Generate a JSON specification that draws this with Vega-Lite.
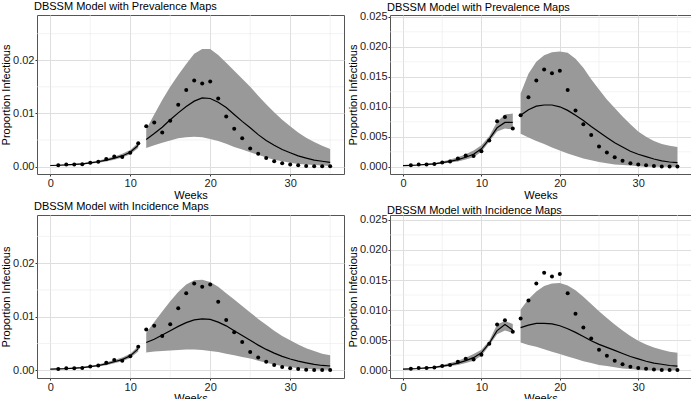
{
"$schema":"https://vega.github.io/schema/vega-lite/v6.json",
"padding":{"left":0,"top":0,"right":0,"bottom":0},
"background":"white",
"datasets":{
"gx":[{"w":5},{"w":15},{"w":25},{"w":35}],
"gyA":[{"y":0.005},{"y":0.015},{"y":0.025}],
"gyB":[{"y":0.0025},{"y":0.0075},{"y":0.0125},{"y":0.0175},{"y":0.0225}],
"obs":[{"w":1,"o":0.00025},{"w":2,"o":0.0004},{"w":3,"o":0.0004},{"w":4,"o":0.00045},{"w":5,"o":0.0007},{"w":6,"o":0.0009},{"w":7,"o":0.0014},{"w":8,"o":0.0019},{"w":9,"o":0.0018},{"w":10,"o":0.0026},{"w":11,"o":0.0044},{"w":12,"o":0.0076},{"w":13,"o":0.0083},{"w":14,"o":0.0064},{"w":15,"o":0.0086},{"w":16,"o":0.0116},{"w":17,"o":0.0144},{"w":18,"o":0.0162},{"w":19,"o":0.0156},{"w":20,"o":0.016},{"w":21,"o":0.0128},{"w":22,"o":0.0094},{"w":23,"o":0.0071},{"w":24,"o":0.0053},{"w":25,"o":0.0034},{"w":26,"o":0.0024},{"w":27,"o":0.0016},{"w":28,"o":0.001},{"w":29,"o":0.0006},{"w":30,"o":0.0004},{"w":31,"o":0.00025},{"w":32,"o":0.00012},{"w":33,"o":0.00006},{"w":34,"o":0.00005},{"w":35,"o":0.00005}],
"fit":[
{"p":"TL","s":1,"w":0,"lo":0.00015,"m":0.0002,"hi":0.00025},
{"p":"TL","s":1,"w":1,"lo":0.0002,"m":0.00025,"hi":0.0003},
{"p":"TL","s":1,"w":2,"lo":0.00025,"m":0.0003,"hi":0.00038},
{"p":"TL","s":1,"w":3,"lo":0.0003,"m":0.0004,"hi":0.00048},
{"p":"TL","s":1,"w":4,"lo":0.0004,"m":0.0005,"hi":0.0006},
{"p":"TL","s":1,"w":5,"lo":0.00055,"m":0.0007,"hi":0.00085},
{"p":"TL","s":1,"w":6,"lo":0.0007,"m":0.0009,"hi":0.0011},
{"p":"TL","s":1,"w":7,"lo":0.00095,"m":0.0012,"hi":0.0015},
{"p":"TL","s":1,"w":8,"lo":0.0013,"m":0.0016,"hi":0.0019},
{"p":"TL","s":1,"w":9,"lo":0.0017,"m":0.002,"hi":0.0024},
{"p":"TL","s":1,"w":10,"lo":0.0023,"m":0.0027,"hi":0.0031},
{"p":"TL","s":1,"w":11,"lo":0.0035,"m":0.004,"hi":0.0045},
{"p":"TL","s":2,"w":12,"lo":0.0035,"m":0.0051,"hi":0.007},
{"p":"TL","s":2,"w":13,"lo":0.004,"m":0.0062,"hi":0.0098},
{"p":"TL","s":2,"w":14,"lo":0.0045,"m":0.0074,"hi":0.0125},
{"p":"TL","s":2,"w":15,"lo":0.0049,"m":0.0088,"hi":0.015},
{"p":"TL","s":2,"w":16,"lo":0.0053,"m":0.0101,"hi":0.0172},
{"p":"TL","s":2,"w":17,"lo":0.0055,"m":0.0113,"hi":0.0193},
{"p":"TL","s":2,"w":18,"lo":0.0056,"m":0.0123,"hi":0.0212},
{"p":"TL","s":2,"w":19,"lo":0.0055,"m":0.0129,"hi":0.0221},
{"p":"TL","s":2,"w":20,"lo":0.0052,"m":0.0128,"hi":0.0221},
{"p":"TL","s":2,"w":21,"lo":0.0048,"m":0.0121,"hi":0.021},
{"p":"TL","s":2,"w":22,"lo":0.0043,"m":0.0111,"hi":0.0195},
{"p":"TL","s":2,"w":23,"lo":0.0037,"m":0.0098,"hi":0.018},
{"p":"TL","s":2,"w":24,"lo":0.0032,"m":0.0085,"hi":0.0165},
{"p":"TL","s":2,"w":25,"lo":0.0027,"m":0.0073,"hi":0.015},
{"p":"TL","s":2,"w":26,"lo":0.0022,"m":0.006,"hi":0.0133},
{"p":"TL","s":2,"w":27,"lo":0.0017,"m":0.0049,"hi":0.0117},
{"p":"TL","s":2,"w":28,"lo":0.0013,"m":0.004,"hi":0.0102},
{"p":"TL","s":2,"w":29,"lo":0.001,"m":0.0032,"hi":0.0088},
{"p":"TL","s":2,"w":30,"lo":0.0007,"m":0.0026,"hi":0.0076},
{"p":"TL","s":2,"w":31,"lo":0.0005,"m":0.002,"hi":0.0064},
{"p":"TL","s":2,"w":32,"lo":0.0004,"m":0.0016,"hi":0.0054},
{"p":"TL","s":2,"w":33,"lo":0.0003,"m":0.0012,"hi":0.0046},
{"p":"TL","s":2,"w":34,"lo":0.0002,"m":0.001,"hi":0.0039},
{"p":"TL","s":2,"w":35,"lo":0.0001,"m":0.0008,"hi":0.0033},
{"p":"BL","s":1,"w":0,"lo":0.00015,"m":0.0002,"hi":0.00025},
{"p":"BL","s":1,"w":1,"lo":0.0002,"m":0.00025,"hi":0.0003},
{"p":"BL","s":1,"w":2,"lo":0.00025,"m":0.0003,"hi":0.00038},
{"p":"BL","s":1,"w":3,"lo":0.0003,"m":0.0004,"hi":0.00048},
{"p":"BL","s":1,"w":4,"lo":0.0004,"m":0.0005,"hi":0.0006},
{"p":"BL","s":1,"w":5,"lo":0.00055,"m":0.0007,"hi":0.00085},
{"p":"BL","s":1,"w":6,"lo":0.0007,"m":0.0009,"hi":0.0011},
{"p":"BL","s":1,"w":7,"lo":0.00095,"m":0.0012,"hi":0.0015},
{"p":"BL","s":1,"w":8,"lo":0.0013,"m":0.0016,"hi":0.0019},
{"p":"BL","s":1,"w":9,"lo":0.0017,"m":0.002,"hi":0.0024},
{"p":"BL","s":1,"w":10,"lo":0.0023,"m":0.0027,"hi":0.0031},
{"p":"BL","s":1,"w":11,"lo":0.0035,"m":0.004,"hi":0.0045},
{"p":"BL","s":2,"w":12,"lo":0.0033,"m":0.0052,"hi":0.007},
{"p":"BL","s":2,"w":13,"lo":0.0035,"m":0.0058,"hi":0.009},
{"p":"BL","s":2,"w":14,"lo":0.0036,"m":0.0066,"hi":0.011},
{"p":"BL","s":2,"w":15,"lo":0.0037,"m":0.0074,"hi":0.0129},
{"p":"BL","s":2,"w":16,"lo":0.0038,"m":0.0082,"hi":0.0146},
{"p":"BL","s":2,"w":17,"lo":0.0039,"m":0.0089,"hi":0.016},
{"p":"BL","s":2,"w":18,"lo":0.0039,"m":0.0094,"hi":0.0168},
{"p":"BL","s":2,"w":19,"lo":0.0038,"m":0.0096,"hi":0.0169},
{"p":"BL","s":2,"w":20,"lo":0.0036,"m":0.0095,"hi":0.0165},
{"p":"BL","s":2,"w":21,"lo":0.0034,"m":0.009,"hi":0.0156},
{"p":"BL","s":2,"w":22,"lo":0.0031,"m":0.0083,"hi":0.0144},
{"p":"BL","s":2,"w":23,"lo":0.0028,"m":0.0074,"hi":0.0132},
{"p":"BL","s":2,"w":24,"lo":0.0025,"m":0.0065,"hi":0.012},
{"p":"BL","s":2,"w":25,"lo":0.0022,"m":0.0056,"hi":0.0108},
{"p":"BL","s":2,"w":26,"lo":0.0018,"m":0.0047,"hi":0.0096},
{"p":"BL","s":2,"w":27,"lo":0.0014,"m":0.0039,"hi":0.0085},
{"p":"BL","s":2,"w":28,"lo":0.0011,"m":0.0032,"hi":0.0074},
{"p":"BL","s":2,"w":29,"lo":0.0008,"m":0.0026,"hi":0.0064},
{"p":"BL","s":2,"w":30,"lo":0.0006,"m":0.0021,"hi":0.0056},
{"p":"BL","s":2,"w":31,"lo":0.0004,"m":0.0017,"hi":0.0048},
{"p":"BL","s":2,"w":32,"lo":0.0003,"m":0.0014,"hi":0.0041},
{"p":"BL","s":2,"w":33,"lo":0.0002,"m":0.0011,"hi":0.0036},
{"p":"BL","s":2,"w":34,"lo":0.0001,"m":0.0009,"hi":0.0031},
{"p":"BL","s":2,"w":35,"lo":0.0001,"m":0.0008,"hi":0.0028},
{"p":"TR","s":1,"w":0,"lo":0.00015,"m":0.0002,"hi":0.00025},
{"p":"TR","s":1,"w":1,"lo":0.0002,"m":0.00025,"hi":0.0003},
{"p":"TR","s":1,"w":2,"lo":0.00025,"m":0.0003,"hi":0.0004},
{"p":"TR","s":1,"w":3,"lo":0.0003,"m":0.0004,"hi":0.0005},
{"p":"TR","s":1,"w":4,"lo":0.0004,"m":0.0005,"hi":0.0006},
{"p":"TR","s":1,"w":5,"lo":0.0005,"m":0.0007,"hi":0.0009},
{"p":"TR","s":1,"w":6,"lo":0.0007,"m":0.0009,"hi":0.0012},
{"p":"TR","s":1,"w":7,"lo":0.0009,"m":0.0012,"hi":0.0016},
{"p":"TR","s":1,"w":8,"lo":0.0012,"m":0.0016,"hi":0.0021},
{"p":"TR","s":1,"w":9,"lo":0.0016,"m":0.0021,"hi":0.0027},
{"p":"TR","s":1,"w":10,"lo":0.0025,"m":0.003,"hi":0.0036},
{"p":"TR","s":1,"w":11,"lo":0.0042,"m":0.0046,"hi":0.0051},
{"p":"TR","s":1,"w":12,"lo":0.0059,"m":0.0065,"hi":0.0075},
{"p":"TR","s":1,"w":13,"lo":0.0064,"m":0.0074,"hi":0.0087},
{"p":"TR","s":1,"w":14,"lo":0.0062,"m":0.0074,"hi":0.0089},
{"p":"TR","s":2,"w":15,"lo":0.0055,"m":0.0086,"hi":0.0122},
{"p":"TR","s":2,"w":16,"lo":0.0049,"m":0.0095,"hi":0.0155},
{"p":"TR","s":2,"w":17,"lo":0.0043,"m":0.0101,"hi":0.0175},
{"p":"TR","s":2,"w":18,"lo":0.0038,"m":0.0103,"hi":0.0186},
{"p":"TR","s":2,"w":19,"lo":0.0032,"m":0.0103,"hi":0.0191},
{"p":"TR","s":2,"w":20,"lo":0.0027,"m":0.01,"hi":0.0192},
{"p":"TR","s":2,"w":21,"lo":0.0022,"m":0.0094,"hi":0.019},
{"p":"TR","s":2,"w":22,"lo":0.0018,"m":0.0086,"hi":0.018},
{"p":"TR","s":2,"w":23,"lo":0.0014,"m":0.0077,"hi":0.0165},
{"p":"TR","s":2,"w":24,"lo":0.0011,"m":0.0067,"hi":0.0146},
{"p":"TR","s":2,"w":25,"lo":0.0008,"m":0.0058,"hi":0.0129},
{"p":"TR","s":2,"w":26,"lo":0.0006,"m":0.0049,"hi":0.0112},
{"p":"TR","s":2,"w":27,"lo":0.0004,"m":0.004,"hi":0.0098},
{"p":"TR","s":2,"w":28,"lo":0.0003,"m":0.0033,"hi":0.0084},
{"p":"TR","s":2,"w":29,"lo":0.0002,"m":0.0026,"hi":0.0071},
{"p":"TR","s":2,"w":30,"lo":0.0001,"m":0.0021,"hi":0.0059},
{"p":"TR","s":2,"w":31,"lo":0.0,"m":0.0017,"hi":0.005},
{"p":"TR","s":2,"w":32,"lo":0.0,"m":0.0013,"hi":0.0043},
{"p":"TR","s":2,"w":33,"lo":0.0,"m":0.001,"hi":0.0038},
{"p":"TR","s":2,"w":34,"lo":0.0,"m":0.0008,"hi":0.0035},
{"p":"TR","s":2,"w":35,"lo":0.0,"m":0.0007,"hi":0.0033},
{"p":"BR","s":1,"w":0,"lo":0.00015,"m":0.0002,"hi":0.00025},
{"p":"BR","s":1,"w":1,"lo":0.0002,"m":0.00025,"hi":0.0003},
{"p":"BR","s":1,"w":2,"lo":0.00025,"m":0.0003,"hi":0.0004},
{"p":"BR","s":1,"w":3,"lo":0.0003,"m":0.0004,"hi":0.0005},
{"p":"BR","s":1,"w":4,"lo":0.0004,"m":0.0005,"hi":0.0006},
{"p":"BR","s":1,"w":5,"lo":0.0005,"m":0.0007,"hi":0.0009},
{"p":"BR","s":1,"w":6,"lo":0.0007,"m":0.0009,"hi":0.0012},
{"p":"BR","s":1,"w":7,"lo":0.0009,"m":0.0012,"hi":0.0016},
{"p":"BR","s":1,"w":8,"lo":0.0012,"m":0.0016,"hi":0.0021},
{"p":"BR","s":1,"w":9,"lo":0.0016,"m":0.0021,"hi":0.0027},
{"p":"BR","s":1,"w":10,"lo":0.0024,"m":0.0029,"hi":0.0034},
{"p":"BR","s":1,"w":11,"lo":0.0041,"m":0.0045,"hi":0.0049},
{"p":"BR","s":1,"w":12,"lo":0.006,"m":0.0066,"hi":0.0076},
{"p":"BR","s":1,"w":13,"lo":0.0066,"m":0.0076,"hi":0.0082},
{"p":"BR","s":1,"w":14,"lo":0.0062,"m":0.0067,"hi":0.0077},
{"p":"BR","s":2,"w":15,"lo":0.0046,"m":0.0071,"hi":0.0101},
{"p":"BR","s":2,"w":16,"lo":0.0042,"m":0.0075,"hi":0.0118},
{"p":"BR","s":2,"w":17,"lo":0.0039,"m":0.0078,"hi":0.0131},
{"p":"BR","s":2,"w":18,"lo":0.0035,"m":0.0078,"hi":0.014},
{"p":"BR","s":2,"w":19,"lo":0.0031,"m":0.0077,"hi":0.0144},
{"p":"BR","s":2,"w":20,"lo":0.0027,"m":0.0074,"hi":0.0145},
{"p":"BR","s":2,"w":21,"lo":0.0023,"m":0.0069,"hi":0.0141},
{"p":"BR","s":2,"w":22,"lo":0.0019,"m":0.0063,"hi":0.0133},
{"p":"BR","s":2,"w":23,"lo":0.0015,"m":0.0056,"hi":0.0122},
{"p":"BR","s":2,"w":24,"lo":0.0012,"m":0.0049,"hi":0.011},
{"p":"BR","s":2,"w":25,"lo":0.0009,"m":0.0043,"hi":0.0098},
{"p":"BR","s":2,"w":26,"lo":0.0007,"m":0.0038,"hi":0.0087},
{"p":"BR","s":2,"w":27,"lo":0.0005,"m":0.0033,"hi":0.0076},
{"p":"BR","s":2,"w":28,"lo":0.0003,"m":0.0028,"hi":0.0066},
{"p":"BR","s":2,"w":29,"lo":0.0002,"m":0.0023,"hi":0.0057},
{"p":"BR","s":2,"w":30,"lo":0.0001,"m":0.0019,"hi":0.0049},
{"p":"BR","s":2,"w":31,"lo":0.0,"m":0.0015,"hi":0.0043},
{"p":"BR","s":2,"w":32,"lo":0.0,"m":0.0012,"hi":0.0038},
{"p":"BR","s":2,"w":33,"lo":0.0,"m":0.001,"hi":0.0034},
{"p":"BR","s":2,"w":34,"lo":0.0,"m":0.0008,"hi":0.0031},
{"p":"BR","s":2,"w":35,"lo":0.0,"m":0.0007,"hi":0.0029}
]
},
"concat":[
{"width":307,"height":159,"title":{"text":"DBSSM Model with Prevalence Maps"},
"layer":[
{"data":{"name":"gx"},"mark":{"type":"rule","color":"#EBEBEB","strokeWidth":0.6},"encoding":{"x":{"field":"w","type":"quantitative","scale":{"domain":[-1.66,36.73],"nice":false,"zero":false},"axis":{"values":[0,10,20,30],"title":"Weeks"}}}},
{"data":{"name":"gyA"},"mark":{"type":"rule","color":"#EBEBEB","strokeWidth":0.6},"encoding":{"y":{"field":"y","type":"quantitative","scale":{"domain":[-0.0014,0.0285],"nice":false,"zero":false},"axis":{"values":[0,0.01,0.02],"format":".2f","title":"Proportion Infectious"}}}},
{"data":{"name":"fit"},"transform":[{"filter":"datum.p=='TL'"}],"mark":{"type":"area","color":"#999999","opacity":1},"encoding":{"x":{"field":"w","type":"quantitative","scale":{"domain":[-1.66,36.73],"nice":false,"zero":false},"axis":{"values":[0,10,20,30],"title":"Weeks"}},"y":{"field":"lo","type":"quantitative","scale":{"domain":[-0.0014,0.0285],"nice":false,"zero":false},"axis":{"values":[0,0.01,0.02],"format":".2f","title":"Proportion Infectious"}},"y2":{"field":"hi"},"detail":{"field":"s"}}},
{"data":{"name":"fit"},"transform":[{"filter":"datum.p=='TL'"}],"mark":{"type":"line","color":"black","strokeWidth":1.2},"encoding":{"x":{"field":"w","type":"quantitative","scale":{"domain":[-1.66,36.73],"nice":false,"zero":false},"axis":{"values":[0,10,20,30],"title":"Weeks"}},"y":{"field":"m","type":"quantitative","scale":{"domain":[-0.0014,0.0285],"nice":false,"zero":false},"axis":{"values":[0,0.01,0.02],"format":".2f","title":"Proportion Infectious"}},"detail":{"field":"s"}}},
{"data":{"name":"obs"},"mark":{"type":"circle","color":"black","size":16,"opacity":1},"encoding":{"x":{"field":"w","type":"quantitative","scale":{"domain":[-1.66,36.73],"nice":false,"zero":false},"axis":{"values":[0,10,20,30],"title":"Weeks"}},"y":{"field":"o","type":"quantitative","scale":{"domain":[-0.0014,0.0285],"nice":false,"zero":false},"axis":{"values":[0,0.01,0.02],"format":".2f","title":"Proportion Infectious"}}}}
]},
{"width":301,"height":159,"title":{"text":"DBSSM Model with Prevalence Maps","offset":-2.5},
"layer":[
{"data":{"name":"gx"},"mark":{"type":"rule","color":"#EBEBEB","strokeWidth":0.6},"encoding":{"x":{"field":"w","type":"quantitative","scale":{"domain":[-1.66,36.73],"nice":false,"zero":false},"axis":{"values":[0,10,20,30],"title":"Weeks"}}}},
{"data":{"name":"gyB"},"mark":{"type":"rule","color":"#EBEBEB","strokeWidth":0.6},"encoding":{"y":{"field":"y","type":"quantitative","scale":{"domain":[-0.0012,0.0253],"nice":false,"zero":false},"axis":{"values":[0,0.005,0.01,0.015,0.02,0.025],"format":".3f","title":"Proportion Infectious"}}}},
{"data":{"name":"fit"},"transform":[{"filter":"datum.p=='TR'"}],"mark":{"type":"area","color":"#999999","opacity":1},"encoding":{"x":{"field":"w","type":"quantitative","scale":{"domain":[-1.66,36.73],"nice":false,"zero":false},"axis":{"values":[0,10,20,30],"title":"Weeks"}},"y":{"field":"lo","type":"quantitative","scale":{"domain":[-0.0012,0.0253],"nice":false,"zero":false},"axis":{"values":[0,0.005,0.01,0.015,0.02,0.025],"format":".3f","title":"Proportion Infectious"}},"y2":{"field":"hi"},"detail":{"field":"s"}}},
{"data":{"name":"fit"},"transform":[{"filter":"datum.p=='TR'"}],"mark":{"type":"line","color":"black","strokeWidth":1.2},"encoding":{"x":{"field":"w","type":"quantitative","scale":{"domain":[-1.66,36.73],"nice":false,"zero":false},"axis":{"values":[0,10,20,30],"title":"Weeks"}},"y":{"field":"m","type":"quantitative","scale":{"domain":[-0.0012,0.0253],"nice":false,"zero":false},"axis":{"values":[0,0.005,0.01,0.015,0.02,0.025],"format":".3f","title":"Proportion Infectious"}},"detail":{"field":"s"}}},
{"data":{"name":"obs"},"mark":{"type":"circle","color":"black","size":16,"opacity":1},"encoding":{"x":{"field":"w","type":"quantitative","scale":{"domain":[-1.66,36.73],"nice":false,"zero":false},"axis":{"values":[0,10,20,30],"title":"Weeks"}},"y":{"field":"o","type":"quantitative","scale":{"domain":[-0.0012,0.0253],"nice":false,"zero":false},"axis":{"values":[0,0.005,0.01,0.015,0.02,0.025],"format":".3f","title":"Proportion Infectious"}}}}
]},
{"width":307,"height":163,"title":{"text":"DBSSM Model with Incidence Maps"},
"layer":[
{"data":{"name":"gx"},"mark":{"type":"rule","color":"#EBEBEB","strokeWidth":0.6},"encoding":{"x":{"field":"w","type":"quantitative","scale":{"domain":[-1.66,36.73],"nice":false,"zero":false},"axis":{"values":[0,10,20,30],"title":"Weeks","titlePadding":0}}}},
{"data":{"name":"gyA"},"mark":{"type":"rule","color":"#EBEBEB","strokeWidth":0.6},"encoding":{"y":{"field":"y","type":"quantitative","scale":{"domain":[-0.00144,0.029],"nice":false,"zero":false},"axis":{"values":[0,0.01,0.02],"format":".2f","title":"Proportion Infectious"}}}},
{"data":{"name":"fit"},"transform":[{"filter":"datum.p=='BL'"}],"mark":{"type":"area","color":"#999999","opacity":1},"encoding":{"x":{"field":"w","type":"quantitative","scale":{"domain":[-1.66,36.73],"nice":false,"zero":false},"axis":{"values":[0,10,20,30],"title":"Weeks","titlePadding":0}},"y":{"field":"lo","type":"quantitative","scale":{"domain":[-0.00144,0.029],"nice":false,"zero":false},"axis":{"values":[0,0.01,0.02],"format":".2f","title":"Proportion Infectious"}},"y2":{"field":"hi"},"detail":{"field":"s"}}},
{"data":{"name":"fit"},"transform":[{"filter":"datum.p=='BL'"}],"mark":{"type":"line","color":"black","strokeWidth":1.2},"encoding":{"x":{"field":"w","type":"quantitative","scale":{"domain":[-1.66,36.73],"nice":false,"zero":false},"axis":{"values":[0,10,20,30],"title":"Weeks","titlePadding":0}},"y":{"field":"m","type":"quantitative","scale":{"domain":[-0.00144,0.029],"nice":false,"zero":false},"axis":{"values":[0,0.01,0.02],"format":".2f","title":"Proportion Infectious"}},"detail":{"field":"s"}}},
{"data":{"name":"obs"},"mark":{"type":"circle","color":"black","size":16,"opacity":1},"encoding":{"x":{"field":"w","type":"quantitative","scale":{"domain":[-1.66,36.73],"nice":false,"zero":false},"axis":{"values":[0,10,20,30],"title":"Weeks","titlePadding":0}},"y":{"field":"o","type":"quantitative","scale":{"domain":[-0.00144,0.029],"nice":false,"zero":false},"axis":{"values":[0,0.01,0.02],"format":".2f","title":"Proportion Infectious"}}}}
]},
{"width":301,"height":163,"title":{"text":"DBSSM Model with Incidence Maps","offset":-2.5},
"layer":[
{"data":{"name":"gx"},"mark":{"type":"rule","color":"#EBEBEB","strokeWidth":0.6},"encoding":{"x":{"field":"w","type":"quantitative","scale":{"domain":[-1.66,36.73],"nice":false,"zero":false},"axis":{"values":[0,10,20,30],"title":"Weeks","titlePadding":0}}}},
{"data":{"name":"gyB"},"mark":{"type":"rule","color":"#EBEBEB","strokeWidth":0.6},"encoding":{"y":{"field":"y","type":"quantitative","scale":{"domain":[-0.00128,0.0258],"nice":false,"zero":false},"axis":{"values":[0,0.005,0.01,0.015,0.02,0.025],"format":".3f","title":"Proportion Infectious"}}}},
{"data":{"name":"fit"},"transform":[{"filter":"datum.p=='BR'"}],"mark":{"type":"area","color":"#999999","opacity":1},"encoding":{"x":{"field":"w","type":"quantitative","scale":{"domain":[-1.66,36.73],"nice":false,"zero":false},"axis":{"values":[0,10,20,30],"title":"Weeks","titlePadding":0}},"y":{"field":"lo","type":"quantitative","scale":{"domain":[-0.00128,0.0258],"nice":false,"zero":false},"axis":{"values":[0,0.005,0.01,0.015,0.02,0.025],"format":".3f","title":"Proportion Infectious"}},"y2":{"field":"hi"},"detail":{"field":"s"}}},
{"data":{"name":"fit"},"transform":[{"filter":"datum.p=='BR'"}],"mark":{"type":"line","color":"black","strokeWidth":1.2},"encoding":{"x":{"field":"w","type":"quantitative","scale":{"domain":[-1.66,36.73],"nice":false,"zero":false},"axis":{"values":[0,10,20,30],"title":"Weeks","titlePadding":0}},"y":{"field":"m","type":"quantitative","scale":{"domain":[-0.00128,0.0258],"nice":false,"zero":false},"axis":{"values":[0,0.005,0.01,0.015,0.02,0.025],"format":".3f","title":"Proportion Infectious"}},"detail":{"field":"s"}}},
{"data":{"name":"obs"},"mark":{"type":"circle","color":"black","size":16,"opacity":1},"encoding":{"x":{"field":"w","type":"quantitative","scale":{"domain":[-1.66,36.73],"nice":false,"zero":false},"axis":{"values":[0,10,20,30],"title":"Weeks","titlePadding":0}},"y":{"field":"o","type":"quantitative","scale":{"domain":[-0.00128,0.0258],"nice":false,"zero":false},"axis":{"values":[0,0.005,0.01,0.015,0.02,0.025],"format":".3f","title":"Proportion Infectious"}}}}
]}
],
"columns":2,
"spacing":{"row":41,"column":46},
"bounds":"flush",
"config":{
"font":"Liberation Sans",
"view":{"stroke":"#555555","strokeWidth":1},
"axis":{"grid":true,"gridColor":"#DEDEDE","gridWidth":1,"domain":false,"tickColor":"#333333","tickSize":2,"labelFontSize":11,"labelColor":"#222222","labelPadding":1,"labelOverlap":false,"titleFontSize":11,"titleFontWeight":"normal","titleColor":"black","titlePadding":1},
"title":{"fontSize":11,"fontWeight":"normal","anchor":"start","frame":"group","offset":3,"dx":-3,"color":"black"}
}
}
